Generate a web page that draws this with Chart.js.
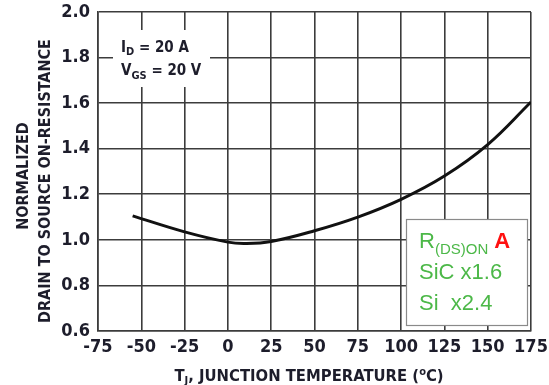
<!DOCTYPE html>
<html>
<head>
<meta charset="utf-8">
<script src="https://cdn.jsdelivr.net/npm/chart.js@4.4.1/dist/chart.umd.min.js"></script>
<style>
  html, body { margin: 0; padding: 0; background: #fff; }
  #wrap { width: 549px; height: 385px; }
</style>
</head>
<body>
<div id="wrap"><canvas id="rdsChart" width="549" height="385"></canvas></div>
<script>
// 数据
const temps = [-55, -25, 0, 10, 25, 50, 75, 100, 125, 150, 175];
const rdsOn = [1.105, 1.035, 0.99, 0.984, 0.993, 1.04, 1.10, 1.178, 1.28, 1.418, 1.605];
const xRange = [-75, 175, 25];
const yRange = [0.6, 2.0, 0.2];
const condLines = [['I', 'D', ' = 20 A'], ['V', 'GS', ' = 20 V']];
const boxLines = [['R', '(DS)ON', ' ', 'A'], ['SiC x1.6'], ['Si  x2.4']];
const yTitle = ['NORMALIZED', 'DRAIN TO SOURCE ON-RESISTANCE'];
const xTitle = ['T', 'J', ', JUNCTION TEMPERATURE (', 'o', 'C)'];

const FAM = '"Liberation Sans Narrow", "DejaVu Sans Condensed", "Liberation Sans", Arial, sans-serif';
const INK = '#1d1d2b';
const GREEN = '#4cb848';

// 画带上下标的一行文字
function drawRich(ctx, parts, x, y, align) {
  let total = 0;
  parts.forEach(p => { ctx.font = p.font; total += ctx.measureText(p.t).width; });
  let cx = align === 'center' ? x - total / 2 : x;
  parts.forEach(p => {
    ctx.font = p.font;
    ctx.fillStyle = p.color || INK;
    ctx.fillText(p.t, cx, y + (p.dy || 0));
    cx += ctx.measureText(p.t).width;
  });
}

const textPlugin = {
  id: 'textPlugin',
  afterDraw(chart) {
    const ctx = chart.ctx;
    ctx.save();
    ctx.textBaseline = 'alphabetic';
    ctx.textAlign = 'left';

    // 条件说明（白底）
    ctx.fillStyle = '#fff';
    ctx.fillRect(113, 30, 97, 57);
    const b = 'bold 15px ' + FAM, s = 'bold 11px ' + FAM;
    drawRich(ctx, [{t: condLines[0][0], font: b}, {t: condLines[0][1], font: s, dy: 3}, {t: condLines[0][2], font: b}], 121, 52);
    drawRich(ctx, [{t: condLines[1][0], font: b}, {t: condLines[1][1], font: s, dy: 4}, {t: condLines[1][2], font: b}], 121, 75);

    // 右下角说明框
    ctx.fillStyle = '#fff';
    ctx.fillRect(406, 219, 122, 107);
    ctx.strokeStyle = '#8a8a8a';
    ctx.lineWidth = 1.2;
    ctx.strokeRect(406.5, 219.5, 121, 106);
    const g = '22px "Liberation Sans", Arial, sans-serif';
    drawRich(ctx, [
      {t: boxLines[0][0], font: g, color: GREEN},
      {t: boxLines[0][1], font: '15px "Liberation Sans Narrow", "Liberation Sans", sans-serif', color: GREEN, dy: 6},
      {t: boxLines[0][2], font: g},
      {t: boxLines[0][3], font: 'bold 22px "Liberation Sans", Arial, sans-serif', color: '#ff1010'}
    ], 419, 248);
    drawRich(ctx, [{t: boxLines[1][0], font: g, color: GREEN}], 419, 279);
    drawRich(ctx, [{t: boxLines[2][0], font: g, color: GREEN}], 419, 310);

    // x 轴标题
    const xb = 'bold 16.5px ' + FAM, xsub = 'bold 11px ' + FAM;
    drawRich(ctx, [
      {t: xTitle[0], font: xb}, {t: xTitle[1], font: xsub, dy: 3},
      {t: xTitle[2], font: xb}, {t: xTitle[3], font: xsub, dy: -6}, {t: xTitle[4], font: xb}
    ], 309, 381, 'center');

    // y 轴标题（两行，旋转）
    ctx.save();
    ctx.translate(28, 176);
    ctx.rotate(-Math.PI / 2);
    drawRich(ctx, [{t: yTitle[0], font: 'bold 16px ' + FAM}], 0, 0, 'center');
    ctx.restore();
    ctx.save();
    ctx.translate(50, 181);
    ctx.rotate(-Math.PI / 2);
    drawRich(ctx, [{t: yTitle[1], font: 'bold 16px ' + FAM}], 0, 0, 'center');
    ctx.restore();

    ctx.restore();
  }
};

new Chart(document.getElementById('rdsChart'), {
  type: 'line',
  data: {
    datasets: [{
      data: temps.map((t, i) => ({x: t, y: rdsOn[i]})),
      borderColor: '#111',
      borderWidth: 3,
      pointRadius: 0,
      tension: 0.4,
      fill: false
    }]
  },
  options: {
    responsive: false,
    animation: false,
    events: [],
    layout: { padding: { left: 0, top: 12, right: 18, bottom: 0 } },
    plugins: { legend: { display: false }, tooltip: { enabled: false } },
    scales: {
      x: {
        type: 'linear',
        min: xRange[0], max: xRange[1],
        afterFit: sc => { sc.height = 54; sc.paddingLeft = 0; sc.paddingRight = 0; },
        ticks: {
          stepSize: xRange[2],
          padding: 6,
          color: INK,
          font: { family: FAM, size: 18, weight: 'bold' },
          maxRotation: 0
        },
        grid: { color: '#3c3c3c', lineWidth: 1.6, drawTicks: false },
        border: { color: '#3c3c3c', width: 1.6 }
      },
      y: {
        min: yRange[0], max: yRange[1],
        afterFit: sc => { sc.width = 98; sc.paddingTop = 0; sc.paddingBottom = 0; },
        ticks: {
          stepSize: yRange[2],
          padding: 8,
          color: INK,
          font: { family: FAM, size: 18, weight: 'bold' },
          callback: v => v.toFixed(1)
        },
        grid: { color: '#3c3c3c', lineWidth: 1.6, drawTicks: false },
        border: { color: '#3c3c3c', width: 1.6 }
      }
    }
  },
  plugins: [textPlugin]
});
</script>
</body>
</html>
